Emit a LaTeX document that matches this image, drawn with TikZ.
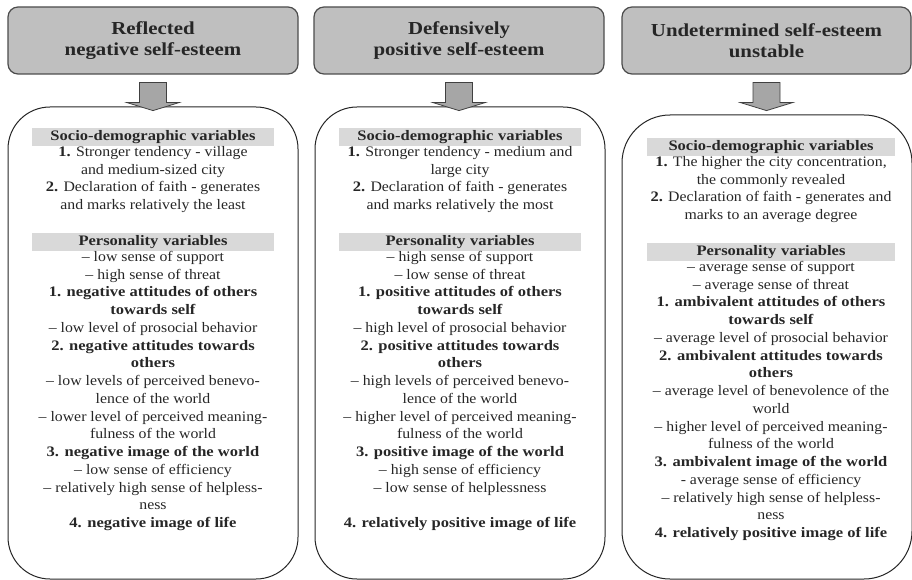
\documentclass[tikz,border=0pt]{standalone}
\usepackage{fontspec}
\setmainfont{Liberation Serif}[FakeStretch = 1.09, BoldFeatures = {FakeStretch = 1.14}]
\usetikzlibrary{calc}
\usetikzlibrary{positioning}

\newcommand{\headfont}{\fontsize{18.3}{20.5}\selectfont\bfseries}
\newcommand{\bodyfont}{\fontsize{14.5}{17.75}\selectfont}

\tikzset{
    headbox/.style = {draw = black!70, fill = gray!50, line width = 1.2pt, rounded corners = 10pt,
                      minimum width = 290pt, minimum height = 67pt, align = center, font = \headfont},
    bodybox/.style = {draw = black!85, line width = 1pt, rounded corners = 42pt, minimum width = 290pt},
    varbar/.style  = {fill = gray!30, inner sep = 0pt, minimum height = 17.75pt, text width = 242pt,
                      align = center, font = \bodyfont\bfseries},
    vartext/.style = {inner sep = 0pt, align = center, font = \bodyfont,
                      execute at begin node = \strut, execute at end node = \strut},
    blockarrow/.style = {draw = black!75, fill = gray!70, line width = 0.8pt, line join = miter}
}

% block arrow hanging under a header node
\newcommand{\arrowunder}[1]{%
    \draw[blockarrow] ($(#1.south)+(-13.5,-8)$) -- ++(27,0) -- ++(0,-20) -- ++(12.5,0)
        -- ++(-26,-8) -- ++(-26,8) -- ++(12.5,0) -- cycle;}

\begin{document}
\begin{tikzpicture}[x = 1pt, y = 1pt, text = black!85]

    \useasboundingbox (0,0) rectangle (912,-580);

    % headers
    \node (head1) at (153,-40.5)   [headbox] {Reflected\\negative self-esteem};
    \node (head2) at (459,-40.5)   [headbox] {Defensively\\positive self-esteem};
    \node (head3) at (766.5,-40.5) [headbox, minimum width = 289pt] {Undetermined self-esteem\\unstable};

    % bodies
    \node (body1) at (153,-343) [bodybox, minimum height = 472pt] {};
    \node (body2) at (460,-343) [bodybox, minimum height = 472pt] {};
    \node (body3) at (767,-347) [bodybox, minimum height = 464pt, rounded corners = 48pt] {};

    \arrowunder{head1}
    \arrowunder{head2}
    \arrowunder{head3}

    % column 1
    \node (sd1) at (153,-137) [varbar] {Socio-demographic variables};
    \node (sdtext1) [vartext, below = 0pt of sd1]
        {\textbf{1.} Stronger tendency - village\\and medium-sized city\\
         \textbf{2.} Declaration of faith - generates\\and marks relatively the least};
    \node (pv1) [varbar, below = 17.75pt of sdtext1] {Personality variables};
    \node (pvtext1) [vartext, below = 0pt of pv1]
        {– low sense of support\\– high sense of threat\\
         \textbf{1. negative attitudes of others}\\\textbf{towards self}\\
         – low level of prosocial behavior\\
         \textbf{2. negative attitudes towards}\\\textbf{others}\\
         – low levels of perceived benevo-\\lence of the world\\
         – lower level of perceived meaning-\\fulness of the world\\
         \textbf{3. negative image of the world}\\
         – low sense of efficiency\\
         – relatively high sense of helpless-\\ness\\
         \textbf{4. negative image of life}};

    % column 2
    \node (sd2) at (460,-137) [varbar] {Socio-demographic variables};
    \node (sdtext2) [vartext, below = 0pt of sd2]
        {\textbf{1.} Stronger tendency - medium and\\large city\\
         \textbf{2.} Declaration of faith - generates\\and marks relatively the most};
    \node (pv2) [varbar, below = 17.75pt of sdtext2] {Personality variables};
    \node (pvtext2) [vartext, below = 0pt of pv2]
        {– high sense of support\\– low sense of threat\\
         \textbf{1. positive attitudes of others}\\\textbf{towards self}\\
         – high level of prosocial behavior\\
         \textbf{2. positive attitudes towards}\\\textbf{others}\\
         – high levels of perceived benevo-\\lence of the world\\
         – higher level of perceived meaning-\\fulness of the world\\
         \textbf{3. positive image of the world}\\
         – high sense of efficiency\\
         – low sense of helplessness\\[17.75pt]
         \textbf{4. relatively positive image of life}};

    % column 3
    \node (sd3) at (771,-147) [varbar, text width = 248pt] {Socio-demographic variables};
    \node (sdtext3) [vartext, below = 0pt of sd3]
        {\textbf{1.} The higher the city concentration,\\the commonly revealed\\
         \textbf{2.} Declaration of faith - generates and\\marks to an average degree};
    \node (pv3) [varbar, text width = 248pt, below = 17.75pt of sdtext3] {Personality variables};
    \node (pvtext3) [vartext, below = 0pt of pv3]
        {– average sense of support\\– average sense of threat\\
         \textbf{1. ambivalent attitudes of others}\\\textbf{towards self}\\
         – average level of prosocial behavior\\
         \textbf{2. ambivalent attitudes towards}\\\textbf{others}\\
         – average level of benevolence of the\\world\\
         – higher level of perceived meaning-\\fulness of the world\\
         \textbf{3. ambivalent image of the world}\\
         - average sense of efficiency\\
         – relatively high sense of helpless-\\ness\\
         \textbf{4. relatively positive image of life}};

\end{tikzpicture}
\end{document}
